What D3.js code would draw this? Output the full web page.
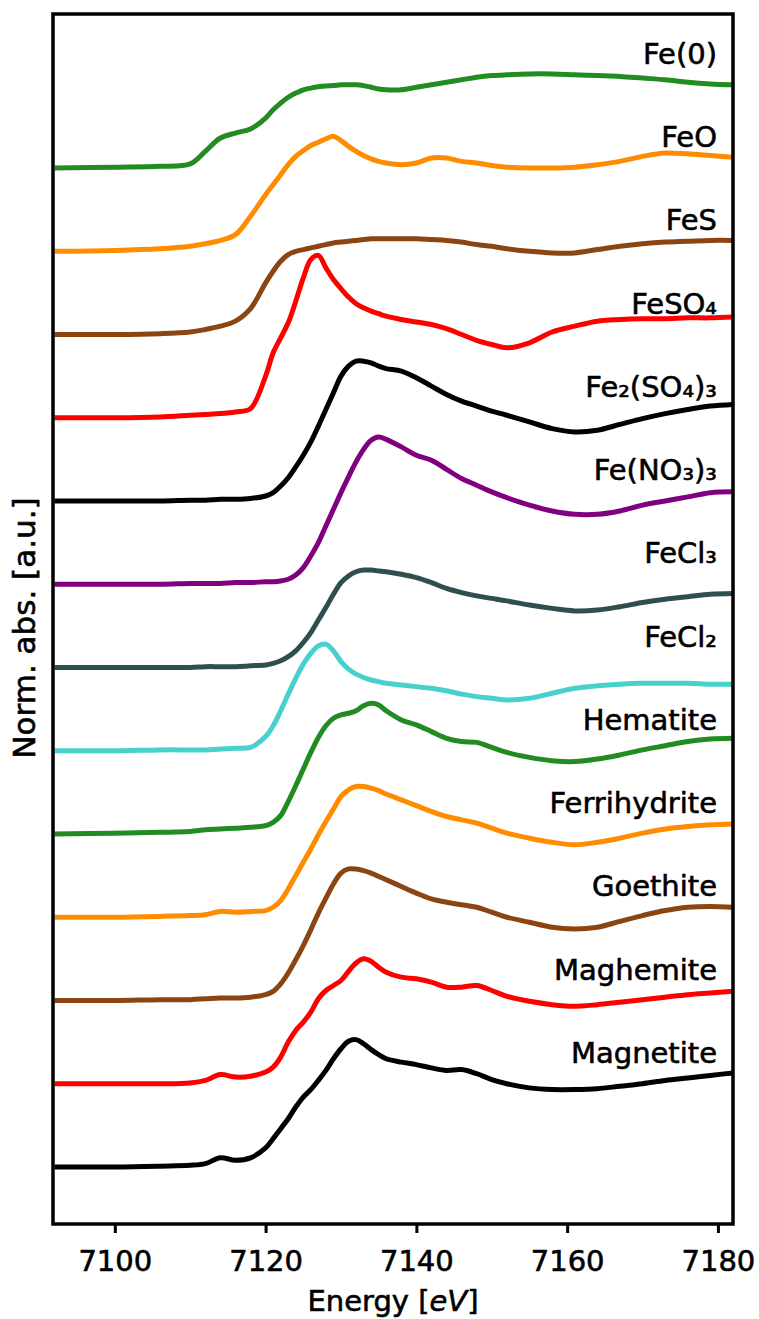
<!DOCTYPE html>
<html>
<head>
<meta charset="utf-8">
<script src="https://cdn.jsdelivr.net/npm/d3@7"></script>
<style>
    body { margin: 0; background: #fff; }
    text { font-family: "DejaVu Sans", sans-serif; fill: #000; stroke: #000; stroke-width: 0.6px; }
</style>
</head>
<body>
<svg id="chart" width="759" height="1319"></svg>
<script>
// Layout variables
let width = 759,
    height = 1319;
let margin = { top: 14, right: 26, bottom: 95, left: 53 };
let w = width - margin.left - margin.right;
let h = height - margin.top - margin.bottom;

// Energy grid (eV)
let energy = [7092, 7100, 7106, 7110, 7112, 7114, 7116, 7118, 7120, 7121, 7122, 7123, 7124, 7125, 7126, 7127, 7128, 7129, 7130, 7131, 7132, 7133, 7134, 7135, 7136, 7138, 7140, 7142, 7144, 7146, 7148, 7150, 7152, 7155, 7158, 7161, 7164, 7167, 7170, 7173, 7176, 7179, 7182];

// Normalized absorption of each reference
let fe0 = [0, 0.01, 0.02, 0.05, 0.2, 0.36, 0.42, 0.47, 0.6, 0.7, 0.78, 0.85, 0.9, 0.94, 0.96, 0.975, 0.985, 0.99, 1.0, 1.0, 1.0, 0.99, 0.97, 0.95, 0.94, 0.94, 0.97, 1.0, 1.03, 1.06, 1.09, 1.11, 1.12, 1.13, 1.13, 1.12, 1.11, 1.1, 1.08, 1.06, 1.03, 1.01, 1.0];
let feo = [0, 0.01, 0.03, 0.06, 0.09, 0.13, 0.2, 0.42, 0.68, 0.8, 0.92, 1.04, 1.14, 1.21, 1.27, 1.31, 1.35, 1.38, 1.33, 1.26, 1.2, 1.15, 1.11, 1.08, 1.06, 1.04, 1.06, 1.12, 1.12, 1.08, 1.06, 1.03, 1.01, 1.0, 1.0, 1.01, 1.04, 1.08, 1.14, 1.18, 1.17, 1.15, 1.13];
let fes = [0, 0, 0.01, 0.03, 0.06, 0.1, 0.16, 0.31, 0.62, 0.76, 0.88, 0.96, 1.0, 1.02, 1.04, 1.06, 1.08, 1.1, 1.11, 1.12, 1.13, 1.14, 1.15, 1.15, 1.15, 1.15, 1.15, 1.14, 1.13, 1.11, 1.08, 1.06, 1.03, 1.0, 0.98, 0.98, 1.02, 1.06, 1.09, 1.11, 1.12, 1.13, 1.13];
let feso4 = [0, 0, 0.01, 0.03, 0.04, 0.05, 0.07, 0.11, 0.5, 0.78, 0.96, 1.14, 1.4, 1.68, 1.9, 1.95, 1.8, 1.66, 1.55, 1.45, 1.37, 1.32, 1.28, 1.25, 1.22, 1.18, 1.15, 1.12, 1.07, 1.0, 0.93, 0.88, 0.84, 0.9, 1.03, 1.1, 1.16, 1.18, 1.19, 1.19, 1.2, 1.2, 1.21];
let fe2so43 = [0, 0, 0, 0.01, 0.01, 0.02, 0.02, 0.03, 0.06, 0.1, 0.18, 0.28, 0.41, 0.55, 0.71, 0.9, 1.1, 1.3, 1.5, 1.62, 1.68, 1.68, 1.66, 1.62, 1.59, 1.56, 1.48, 1.38, 1.28, 1.2, 1.14, 1.08, 1.03, 0.95, 0.87, 0.83, 0.85, 0.92, 0.99, 1.05, 1.1, 1.14, 1.16];
let feno33 = [0, 0, 0, 0.01, 0.01, 0.01, 0.02, 0.02, 0.03, 0.03, 0.04, 0.06, 0.11, 0.2, 0.34, 0.5, 0.7, 0.9, 1.1, 1.29, 1.47, 1.62, 1.73, 1.77, 1.74, 1.65, 1.55, 1.49, 1.38, 1.27, 1.19, 1.11, 1.04, 0.95, 0.88, 0.84, 0.84, 0.88, 0.95, 1.0, 1.05, 1.1, 1.11];
let fecl3 = [0, 0, 0, 0, 0.01, 0.01, 0.01, 0.02, 0.03, 0.05, 0.08, 0.13, 0.2, 0.3, 0.42, 0.57, 0.72, 0.88, 1.02, 1.1, 1.15, 1.17, 1.17, 1.16, 1.15, 1.12, 1.08, 1.02, 0.95, 0.9, 0.86, 0.83, 0.8, 0.75, 0.71, 0.68, 0.69, 0.73, 0.78, 0.82, 0.85, 0.88, 0.89];
let fecl2 = [0, 0, 0.01, 0.01, 0.01, 0.02, 0.03, 0.04, 0.17, 0.3, 0.48, 0.68, 0.87, 1.04, 1.17, 1.26, 1.28, 1.2, 1.07, 0.98, 0.92, 0.88, 0.85, 0.83, 0.81, 0.79, 0.77, 0.75, 0.72, 0.68, 0.65, 0.63, 0.61, 0.63, 0.69, 0.75, 0.78, 0.8, 0.81, 0.81, 0.81, 0.8, 0.8];
let hematite = [0, 0.01, 0.02, 0.03, 0.05, 0.06, 0.07, 0.08, 0.1, 0.14, 0.22, 0.39, 0.58, 0.78, 0.98, 1.16, 1.3, 1.39, 1.43, 1.45, 1.48, 1.54, 1.57, 1.55, 1.48, 1.37, 1.31, 1.23, 1.15, 1.11, 1.1, 1.04, 0.98, 0.92, 0.88, 0.87, 0.9, 0.95, 1.01, 1.06, 1.11, 1.14, 1.15];
let ferrihydrite = [0, 0, 0.01, 0.02, 0.03, 0.07, 0.06, 0.07, 0.08, 0.12, 0.2, 0.34, 0.5, 0.66, 0.82, 0.99, 1.15, 1.3, 1.45, 1.53, 1.57, 1.57, 1.55, 1.52, 1.48, 1.41, 1.34, 1.27, 1.21, 1.17, 1.13, 1.07, 1.01, 0.95, 0.9, 0.87, 0.9, 0.95, 1.01, 1.06, 1.09, 1.11, 1.12];
let goethite = [0, 0, 0.01, 0.01, 0.02, 0.03, 0.03, 0.04, 0.07, 0.11, 0.2, 0.33, 0.49, 0.66, 0.85, 1.05, 1.23, 1.4, 1.53, 1.58, 1.58, 1.56, 1.53, 1.49, 1.45, 1.37, 1.29, 1.22, 1.18, 1.15, 1.12, 1.06, 1.0, 0.94, 0.88, 0.86, 0.88, 0.95, 1.02, 1.08, 1.12, 1.13, 1.12];
let maghemite = [0, 0, 0, 0.01, 0.04, 0.11, 0.08, 0.09, 0.14, 0.2, 0.32, 0.5, 0.64, 0.74, 0.86, 1.02, 1.12, 1.18, 1.24, 1.35, 1.45, 1.5, 1.47, 1.4, 1.34, 1.28, 1.26, 1.22, 1.16, 1.16, 1.18, 1.12, 1.05, 0.99, 0.95, 0.93, 0.95, 0.98, 1.01, 1.04, 1.07, 1.09, 1.11];
let magnetite = [0, 0, 0.01, 0.02, 0.04, 0.11, 0.08, 0.11, 0.23, 0.34, 0.46, 0.58, 0.72, 0.84, 0.93, 1.04, 1.16, 1.3, 1.42, 1.51, 1.53, 1.48, 1.41, 1.35, 1.3, 1.26, 1.23, 1.19, 1.16, 1.17, 1.12, 1.05, 1.0, 0.95, 0.93, 0.93, 0.94, 0.97, 1.0, 1.04, 1.07, 1.1, 1.13];

// Stack order, top to bottom
let names = ["Fe(0)", "FeO", "FeS", "FeSO₄", "Fe₂(SO₄)₃", "Fe(NO₃)₃", "FeCl₃", "FeCl₂", "Hematite", "Ferrihydrite", "Goethite", "Maghemite", "Magnetite"];
let values = [fe0, feo, fes, feso4, fe2so43, feno33, fecl3, fecl2, hematite, ferrihydrite, goethite, maghemite, magnetite];
let colors = ["forestgreen", "darkorange", "saddlebrown", "red", "black", "purple", "darkslategray", "mediumturquoise", "forestgreen", "darkorange", "saddlebrown", "red", "black"];
let xTicks = [7100, 7120, 7140, 7160, 7180];

let svg = d3.select("#chart");
let g = svg.append("g")
    .attr("transform", `translate(${margin.left},${margin.top})`);

// Scales
let x = d3.scaleLinear().domain([7091.8, 7182]).range([0, w]);
let y = d3.scaleLinear().domain([-0.685, 13.85]).range([h, 0]);

g.append("clipPath")
    .attr("id", "plot-clip")
    .append("rect")
    .attr("width", w)
    .attr("height", h);

// One spectrum per reference, shifted by its position in the stack
let series = names.map((name, i) => {
    let offset = names.length - 1 - i;
    return {
        name: name,
        color: colors[i],
        offset: offset,
        points: energy.map((e, j) => [e, values[i][j] + offset])
    };
});

let line = d3.line()
    .x(d => x(d[0]))
    .y(d => y(d[1]))
    .curve(d3.curveCatmullRom.alpha(0.5));

g.append("g")
    .attr("clip-path", "url(#plot-clip)")
    .selectAll("path")
    .data(series)
    .enter().append("path")
    .attr("d", d => line(d.points))
    .attr("fill", "none")
    .attr("stroke", d => d.color)
    .attr("stroke-width", 5)
    .attr("stroke-linejoin", "round");

// Labels above the right end of each spectrum
g.selectAll(".label")
    .data(series)
    .enter().append("text")
    .attr("class", "label")
    .attr("x", w - 16)
    .attr("y", d => y(d.offset + 1.25))
    .attr("text-anchor", "end")
    .attr("font-size", "29px")
    .text(d => d.name);

// X axis
let xAxis = g.append("g")
    .attr("transform", `translate(0,${h})`)
    .call(d3.axisBottom(x).tickValues(xTicks).tickSize(9).tickPadding(17).tickFormat(d3.format("d")));
xAxis.select(".domain").remove();
xAxis.selectAll("line").attr("stroke", "#000").attr("stroke-width", 3);
xAxis.selectAll("text")
    .attr("font-size", "29px")
    .attr("font-family", "DejaVu Sans");

// Frame
g.append("rect")
    .attr("width", w)
    .attr("height", h)
    .attr("fill", "none")
    .attr("stroke", "#000")
    .attr("stroke-width", 3.5);

// Axis titles
let xLabel = svg.append("text")
    .attr("x", margin.left + w / 2)
    .attr("y", 1311)
    .attr("text-anchor", "middle")
    .attr("font-size", "29px");
xLabel.append("tspan").text("Energy [");
xLabel.append("tspan").attr("font-style", "italic").text("eV");
xLabel.append("tspan").text("]");

svg.append("text")
    .attr("transform", "translate(35,628) rotate(-90)")
    .attr("text-anchor", "middle")
    .attr("font-size", "31px")
    .text("Norm. abs. [a.u.]");
</script>
</body>
</html>
